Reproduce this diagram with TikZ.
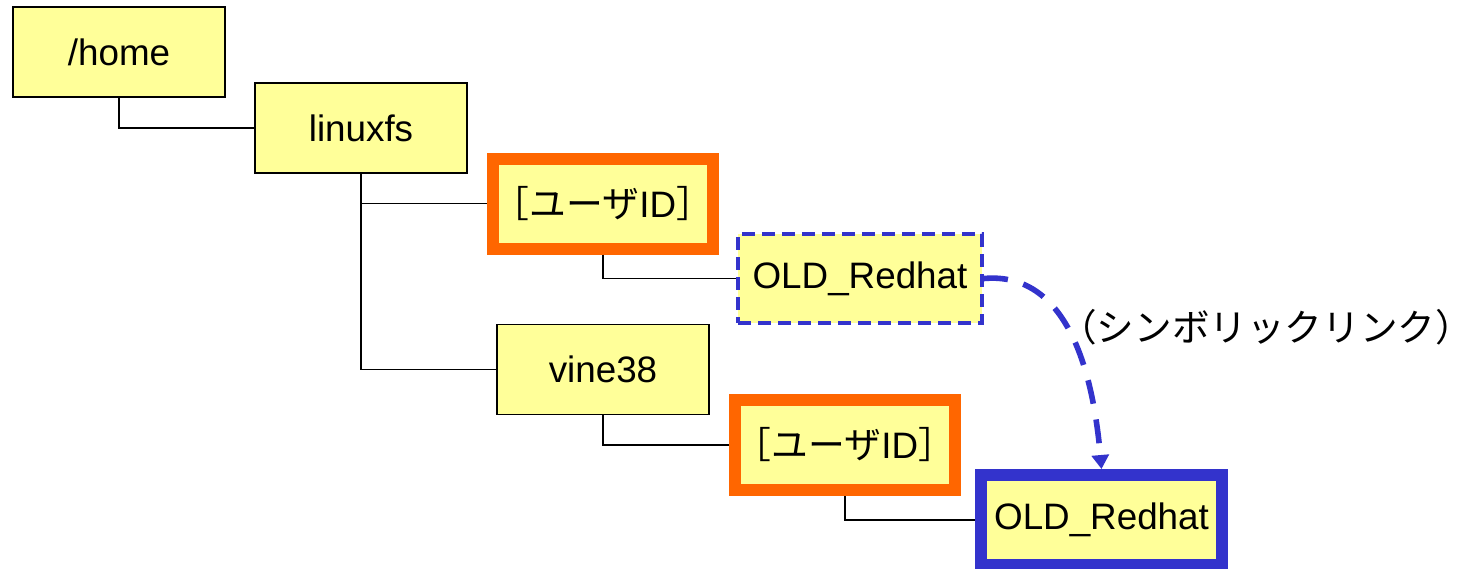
\documentclass[tikz,border=0pt]{standalone}
\usepackage{fontspec}
\setmainfont{Liberation Sans}
\newfontfamily\jpfont{Noto Sans CJK JP}
\usetikzlibrary{arrows.meta, positioning}
\definecolor{dirfill}{HTML}{FFFF99}
\definecolor{uidorange}{HTML}{FF6600}
\definecolor{linkblue}{HTML}{3333CC}

\begin{document}
\begin{tikzpicture}[
    x=0.5pt, y=-0.5pt,
    on grid,
    box/.style={draw, fill=dirfill, line width=0.9pt, minimum width=106pt, minimum height=45pt,
        inner sep=0pt, font=\fontsize{18.4pt}{22pt}\selectfont},
    uidbox/.style={box, draw=uidorange, line width=6pt},
    linkbox/.style={box, draw=linkblue, line width=2pt, dash pattern=on 6.5pt off 3.5pt,
        minimum width=122pt, minimum height=44.5pt},
    targetbox/.style={box, draw=linkblue, line width=6pt, minimum width=120.5pt},
    tree/.style={draw, line width=0.9pt},
    symlink/.style={draw=linkblue, line width=2.8pt, dash pattern=on 12pt off 8pt,
        -{Triangle[length=7pt, width=8.5pt]}}
]
    \useasboundingbox (0,0) rectangle (1475,568);

    % Directories
    \node[box] (home) at (119,52) {/home};
    \node[box, below right=38pt and 121pt of home] (linuxfs) {linuxfs};
    \node[uidbox, below right=37.75pt and 121pt of linuxfs] (uid1) {{\jpfont ［ユーザ}ID{\jpfont ］}};
    \node[linkbox, below right=37.5pt and 128.5pt of uid1] (link) {OLD\_Redhat};
    \node[box, below right=120.75pt and 121pt of linuxfs] (vine) {vine38};
    \node[uidbox, below right=37.75pt and 121pt of vine] (uid2) {{\jpfont ［ユーザ}ID{\jpfont ］}};
    \node[targetbox, below right=37.5pt and 128.25pt of uid2] (target) {OLD\_Redhat};

    % Label
    \node[font=\jpfont\fontsize{18.8pt}{24pt}\selectfont, inner sep=0pt,
        below right=24.25pt and 203pt of link] (lbl) {（シンボリックリンク）};

    % Tree lines
    \draw[tree] (home.south) |- (linuxfs.west);
    \draw[tree] (linuxfs.south) |- (uid1.west);
    \draw[tree] (linuxfs.south) |- (vine.west);
    \draw[tree] (uid1.south) |- (link.west);
    \draw[tree] (vine.south) |- (uid2.west);
    \draw[tree] (uid2.south) |- (target.west);

    % Symbolic link
    \draw[symlink] (link.east) to[out=5, in=95] (target.north);
\end{tikzpicture}
\end{document}
